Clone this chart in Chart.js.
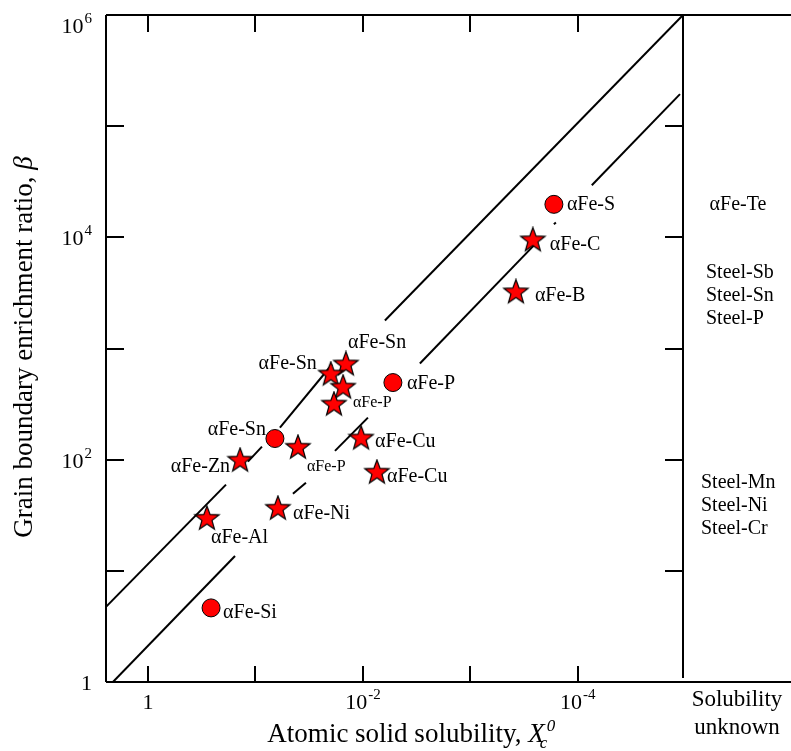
<!DOCTYPE html>
<html>
<head>
<meta charset="utf-8">
<title>Grain boundary enrichment ratio vs solid solubility</title>
<script src="https://cdn.jsdelivr.net/npm/chart.js@4.4.1/dist/chart.umd.min.js"></script>
<style>
    body { margin: 0; background: #fff; }
    #wrap { width: 791px; height: 751px; position: relative; }
</style>
</head>
<body>
<div id="wrap"><canvas id="chart"></canvas></div>
<script>
// ===== DATA =====
const systemNames = ['αFe-S', 'αFe-C', 'αFe-B', 'αFe-Sn', 'αFe-Sn', '', 'αFe-P', 'αFe-P',
    'αFe-Sn', 'αFe-P', 'αFe-Zn', 'αFe-Cu', 'αFe-Cu', 'αFe-Al', 'αFe-Ni', 'αFe-Si'];
const solubility = [1.67e-4, 2.62e-4, 3.77e-4, 1.44e-2, 1.99e-2, 1.53e-2, 1.86e-2, 5.26e-3,
    6.59e-2, 4.02e-2, 0.139, 1.04e-2, 7.41e-3, 0.283, 6.18e-2, 0.259];
const enrichment = [1.98e4, 9.4e3, 3.2e3, 718, 583, 445, 313, 494,
    155, 128, 98, 155, 76.4, 29.4, 36.2, 4.64];
const markerKind = ['circle', 'star', 'star', 'star', 'star', 'star', 'star', 'circle',
    'circle', 'star', 'star', 'star', 'star', 'star', 'star', 'circle'];

// upper trend line (drawn in pieces, gaps where labels sit)
const upperLine = [
    [[2.46, 4.74], [0.188, 59.6]],
    [[0.1175, 95.9], [0.087, 131]],
    [[0.0592, 194], [0.0194, 718]],
    [[6.24e-3, 1787], [1.05e-5, 1e6]]
];
// lower trend line
const lowerLine = [
    [[2.12, 1], [0.155, 13.6]],
    [[0.0448, 49.4], [0.0339, 62.1]],
    [[0.0182, 120], [8.98e-3, 239]],
    [[2.95e-3, 732], [2.51e-4, 8650]],
    [[1.67e-4, 1.31e4], [1.60e-4, 1.36e4]],
    [[7.41e-5, 2.94e4], [1.12e-5, 1.94e5]]
];

const xTicks = [1, 1e-1, 1e-2, 1e-3, 1e-4];
const xTickLabels = ['1', '', '10^-2', '', '10^-4'];
const yTicks = [1, 10, 100, 1e3, 1e4, 1e5, 1e6];
const yTickLabels = ['1', '', '10^2', '', '10^4', '', '10^6'];

// systems whose solubility is unknown (right-hand strip)
const unknownGroups = [['αFe-Te'], ['Steel-Sb', 'Steel-Sn', 'Steel-P'], ['Steel-Mn', 'Steel-Ni', 'Steel-Cr']];

// ===== STYLE =====
const SERIF = '"Liberation Serif", "Times New Roman", serif';
// label placement relative to each marker: [dx, dy, align, font size]
const labelPlacement = [
    [13, 0, 'left', 20], [17, 4, 'left', 20], [19, 3, 'left', 20], [2, -22, 'left', 20],
    [-14, -11, 'right', 20], [0, 0, 'left', 20], [19, -2, 'left', 16], [14, 1, 'left', 20],
    [-9, -9, 'right', 20], [9, 19, 'left', 16], [-10, 6, 'right', 20], [14, 3, 'left', 20],
    [10, 4, 'left', 20], [4, 19, 'left', 20], [15, 5, 'left', 20], [12, 5, 'left', 20]
];
const groupPlacement = [
    { x: 738, y: 205, align: 'center' },
    { x: 706, y: 273, align: 'left' },
    { x: 701, y: 483, align: 'left' }
];

// filled five-point star used as point style
function makeStar() {
    const c = document.createElement('canvas');
    c.width = 28; c.height = 28;
    const g = c.getContext('2d');
    const outer = 12.8, inner = 5.3;
    g.beginPath();
    for (let i = 0; i < 10; i++) {
        const r = i % 2 === 0 ? outer : inner;
        const a = -Math.PI / 2 + i * Math.PI / 5;
        const px = 14 + r * Math.cos(a), py = 14 + r * Math.sin(a);
        if (i === 0) g.moveTo(px, py); else g.lineTo(px, py);
    }
    g.closePath();
    g.fillStyle = '#ff0000';
    g.fill();
    g.lineWidth = 1.2;
    g.strokeStyle = '#000';
    g.stroke();
    return c;
}
const starImg = makeStar();

function segmentDatasets(segments) {
    return segments.map(seg => ({
        type: 'line',
        data: seg.map(p => ({ x: p[0], y: p[1] })),
        borderColor: '#000',
        borderWidth: 2,
        pointRadius: 0,
        fill: false,
        order: 2
    }));
}

// draws "10^-2" style labels with a raised exponent
function drawPower(ctx, text, x, baseY, align) {
    const parts = text.split('^');
    ctx.font = '22px ' + SERIF;
    const wBase = ctx.measureText(parts[0]).width;
    let wExp = 0;
    if (parts[1]) {
        ctx.font = '15px ' + SERIF;
        wExp = ctx.measureText(parts[1]).width + 1;
    }
    const total = wBase + wExp;
    const left = align === 'right' ? x - total : x - total / 2;
    ctx.textAlign = 'left';
    ctx.textBaseline = 'alphabetic';
    ctx.font = '22px ' + SERIF;
    ctx.fillText(parts[0], left, baseY);
    if (parts[1]) {
        ctx.font = '15px ' + SERIF;
        ctx.fillText(parts[1], left + wBase + 1, baseY - 10);
    }
}

const framePlugin = {
    id: 'frameAndLabels',
    afterDatasetsDraw(chart) {
        const ctx = chart.ctx;
        const area = chart.chartArea;
        const xs = chart.scales.x, ys = chart.scales.y;
        const W = chart.width;
        ctx.save();
        ctx.strokeStyle = '#000';
        ctx.fillStyle = '#000';
        ctx.lineWidth = 2;

        // frame: top and bottom run across the unknown strip too
        ctx.beginPath();
        ctx.moveTo(area.left, area.top); ctx.lineTo(W, area.top);
        ctx.moveTo(area.left, area.bottom); ctx.lineTo(W, area.bottom);
        ctx.moveTo(area.left, area.top); ctx.lineTo(area.left, area.bottom);
        ctx.moveTo(area.right, area.top); ctx.lineTo(area.right, area.bottom - 4);
        ctx.stroke();

        // inward ticks
        ctx.beginPath();
        xTicks.forEach(v => {
            const px = Math.round(xs.getPixelForValue(v));
            ctx.moveTo(px, area.bottom); ctx.lineTo(px, area.bottom - 16);
            ctx.moveTo(px, area.top); ctx.lineTo(px, area.top + 17);
        });
        yTicks.forEach(v => {
            if (v === 1 || v === 1e6) return;
            const py = Math.round(ys.getPixelForValue(v));
            ctx.moveTo(area.left, py); ctx.lineTo(area.left + 18, py);
            ctx.moveTo(area.right, py); ctx.lineTo(area.right - 18, py);
        });
        ctx.stroke();

        // tick labels
        xTicks.forEach((v, i) => {
            if (!xTickLabels[i]) return;
            drawPower(ctx, xTickLabels[i], xs.getPixelForValue(v), area.bottom + 27, 'center');
        });
        yTicks.forEach((v, i) => {
            if (!yTickLabels[i]) return;
            const py = ys.getPixelForValue(v);
            drawPower(ctx, yTickLabels[i], area.left - 14, Math.max(py + 8, area.top + 18), 'right');
        });

        // point labels
        const meta = chart.getDatasetMeta(0);
        meta.data.forEach((pt, i) => {
            if (!systemNames[i]) return;
            const [dx, dy, align, size] = labelPlacement[i];
            ctx.font = size + 'px ' + SERIF;
            ctx.textAlign = align;
            ctx.textBaseline = 'middle';
            ctx.fillText(systemNames[i], pt.x + dx, pt.y + dy);
        });

        // unknown-solubility strip
        ctx.font = '20px ' + SERIF;
        ctx.textBaseline = 'middle';
        unknownGroups.forEach((group, g) => {
            const place = groupPlacement[g];
            ctx.textAlign = place.align;
            group.forEach((name, k) => ctx.fillText(name, place.x, place.y + k * 23));
        });
        ctx.font = '23px ' + SERIF;
        ctx.textAlign = 'center';
        ctx.fillText('Solubility', 737, 700);
        ctx.fillText('unknown', 737, 728);

        // x axis title with italic X_c^0
        const xTitle = 'Atomic solid solubility, ';
        ctx.textBaseline = 'alphabetic';
        ctx.textAlign = 'left';
        ctx.font = '27px ' + SERIF;
        const wTitle = ctx.measureText(xTitle).width;
        ctx.font = 'italic 27px ' + SERIF;
        const wX = ctx.measureText('X').width;
        const startX = 411 - (wTitle + wX + 10) / 2;
        ctx.font = '27px ' + SERIF;
        ctx.fillText(xTitle, startX, 742);
        ctx.font = 'italic 27px ' + SERIF;
        ctx.fillText('X', startX + wTitle, 742);
        ctx.font = 'italic 17px ' + SERIF;
        ctx.fillText('c', startX + wTitle + wX - 5, 748);
        ctx.fillText('0', startX + wTitle + wX + 2, 731);

        // y axis title, rotated, with italic beta
        const yTitle = 'Grain boundary enrichment ratio, ';
        ctx.translate(25, 347);
        ctx.rotate(-Math.PI / 2);
        ctx.textAlign = 'left';
        ctx.textBaseline = 'middle';
        ctx.font = '27px ' + SERIF;
        const wY = ctx.measureText(yTitle).width;
        ctx.font = 'italic 27px ' + SERIF;
        const wB = ctx.measureText('β').width;
        const startY = -(wY + wB) / 2;
        ctx.font = '27px ' + SERIF;
        ctx.fillText(yTitle, startY, 0);
        ctx.font = 'italic 27px ' + SERIF;
        ctx.fillText('β', startY + wY, 0);
        ctx.restore();
    }
};

// ===== CHART =====
const markerData = solubility.map((x, i) => ({ x: x, y: enrichment[i] }));

new Chart(document.getElementById('chart'), {
    type: 'scatter',
    data: {
        datasets: [{
            data: markerData,
            pointStyle: markerKind.map(k => k === 'star' ? starImg : 'circle'),
            pointRadius: 9,
            backgroundColor: '#ff0000',
            borderColor: '#000',
            borderWidth: 1,
            order: 1
        }].concat(segmentDatasets(upperLine), segmentDatasets(lowerLine))
    },
    options: {
        responsive: true,
        maintainAspectRatio: false,
        animation: false,
        events: [],
        layout: { padding: { left: 106, right: 108, top: 15, bottom: 69 } },
        plugins: {
            legend: { display: false },
            tooltip: { enabled: false }
        },
        scales: {
            x: { type: 'logarithmic', reverse: true, min: 1.05e-5, max: 2.46, display: false },
            y: { type: 'logarithmic', min: 1, max: 1e6, display: false }
        }
    },
    plugins: [framePlugin]
});
</script>
</body>
</html>
